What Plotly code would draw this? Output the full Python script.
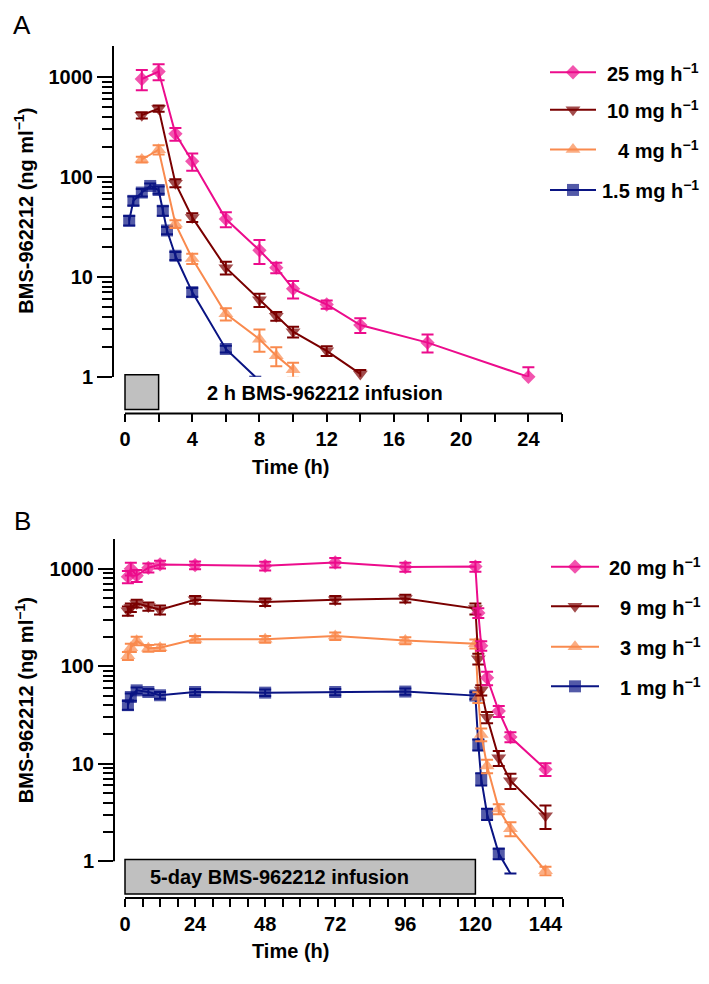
import plotly.graph_objects as go

W, H = 709, 984
FONT = "Liberation Sans, Arial, sans-serif"

# ---------------- Panel A data (2 h infusion) ----------------
a_labels = ["25 mg h<sup>−1</sup>", "10 mg h<sup>−1</sup>", "4 mg h<sup>−1</sup>", "1.5 mg h<sup>−1</sup>"]
a25_t = [1, 2, 3, 4, 6, 8, 9, 10, 12, 14, 18, 24]
a25_y = [960, 1140, 271, 144, 38, 18.5, 12.4, 7.6, 5.3, 3.3, 2.2, 1.0]
a25_sd = [220, 210, 40, 28, 6.5, 5.0, 1.5, 1.5, 0.5, 0.55, 0.45, 0.25]

a10_t = [1, 2, 3, 4, 6, 8, 9, 10, 12, 14]
a10_y = [417, 485, 87, 39.5, 12.4, 5.9, 4.05, 2.83, 1.82, 1.07]
a10_sd = [30, 35, 8, 4, 1.8, 0.9, 0.4, 0.35, 0.2, 0.1]

a4_t = [1, 2, 3, 4, 6, 8, 9, 10]
a4_y = [150, 188, 34, 15.3, 4.27, 2.38, 1.63, 1.18]
a4_sd = [10, 20, 3, 1.8, 0.6, 0.6, 0.35, 0.2]

a15_t = [0.25, 0.5, 1, 1.5, 2, 2.25, 2.5, 3, 4, 6, 7.75]
a15_y = [36.7, 57.8, 70, 81.5, 74.3, 46, 29.2, 16.3, 7.05, 1.9, 1.0]
a15_sd = [4, 6, 6, 5, 6, 5, 2.5, 1.5, 0.7, 0.15, None]
a15_shown = [True] * 10 + [False]

# ---------------- Panel B data (5-day infusion) ----------------
b_labels = ["20 mg h<sup>−1</sup>", "9 mg h<sup>−1</sup>", "3 mg h<sup>−1</sup>", "1 mg h<sup>−1</sup>"]
b_t = [1, 2, 4, 8, 12, 24, 48, 72, 96, 120, 121, 122, 124, 128, 132, 144]
b20_y = [828, 1000, 850, 1021, 1104, 1087, 1070, 1156, 1040, 1050, 352, 162, 76, 34.7, 18.8, 8.8]
b20_sd = [120, 150, 120, 110, 100, 100, 110, 130, 110, 120, 40, 18, 12, 4.5, 2.2, 1.3]
b9_y = [370, 400, 440, 410, 380, 481, 455, 481, 495, 390, 119, 57, 30, 11.5, 6.7, 2.94]
b9_sd = [40, 40, 40, 40, 40, 45, 40, 45, 45, 50, 15, 7, 4, 2, 1.2, 0.8]
b3_y = [128, 155, 182, 153, 155, 189, 189, 204, 183, 170, 48, 20, 9.5, 3.44, 2.16, 0.8]
b3_sd = [12, 15, 18, 12, 12, 15, 15, 18, 15, 18, 6, 3, 1.5, 0.4, 0.35, 0.08]
b1_t = [1, 2, 4, 8, 12, 24, 48, 72, 96, 120, 121, 122, 124, 128, 132]
b1_y = [39.9, 48.4, 56.6, 54.4, 50.4, 54.4, 53.6, 54.4, 55, 50, 15.7, 7.0, 3.06, 1.2, 0.75]
b1_sd = [4, 4, 4, 4, 4, 4, 4, 4, 4, 4, 2, 1, 0.4, 0.15, None]
b1_shown = [True] * 14 + [False]

a_xticks = list(range(0, 27, 2))
a_xlabels = [str(v) if v % 4 == 0 and v <= 24 else "" for v in a_xticks]
b_xticks = list(range(0, 151, 6))
b_xlabels = [str(v) if v % 24 == 0 else "" for v in b_xticks]
y_major = [1, 10, 100, 1000]
y_minor = [m * 10 ** e for e in range(0, 3) for m in range(2, 10)]

COL = {"pink": "#EC0C8C", "brown": "#7A0000", "orange": "#F98A4E", "navy": "#0A1483"}
SYM = {"pink": ("diamond", 11), "brown": ("triangle-down", 13),
       "orange": ("triangle-up", 13), "navy": ("square", 12)}


def px_x(p):
    return p / W


def px_y(p):
    return 1 - p / H


fig = go.Figure()


def add_series(t, y, sd, key, xa, ya, shown=None):
    sym, size = SYM[key]
    flags = shown if shown is not None else [True] * len(t)
    sizes = [size if s else 0 for s in flags]
    fig.add_trace(go.Scatter(
        x=t, y=y, mode="lines+markers", xaxis=xa, yaxis=ya, showlegend=False,
        cliponaxis=False,
        line=dict(color=COL[key], width=2),
        marker=dict(symbol=sym, size=sizes, color=COL[key], line=dict(width=0)),
        error_y=dict(type="data", array=sd, symmetric=True, color=COL[key],
                     thickness=2, width=6),
    ))


add_series(a15_t, a15_y, a15_sd, "navy", "x", "y", a15_shown)
add_series(a4_t, a4_y, a4_sd, "orange", "x", "y")
add_series(a10_t, a10_y, a10_sd, "brown", "x", "y")
add_series(a25_t, a25_y, a25_sd, "pink", "x", "y")

add_series(b1_t, b1_y, b1_sd, "navy", "x2", "y2", b1_shown)
add_series(b_t, b3_y, b3_sd, "orange", "x2", "y2")
add_series(b_t, b9_y, b9_sd, "brown", "x2", "y2")
add_series(b_t, b20_y, b20_sd, "pink", "x2", "y2")

# ---------------- manual legends (pixel overlay axes) ----------------
leg_keys = ["pink", "brown", "orange", "navy"]
legA_y = [65, 103, 143, 184]
legB_y = [565, 605, 646, 686]
annotations = []
for keys, ys, x0, x1, xt, labels in [
    (leg_keys, legA_y, 542, 588, 693, a_labels),
    (leg_keys, legB_y, 543, 591, 695, b_labels),
]:
    for k, yy, lab in zip(keys, ys, labels):
        sym, size = SYM[k]
        fig.add_trace(go.Scatter(
            x=[x0, (x0 + x1) / 2, x1], y=[yy, yy, yy], mode="lines+markers",
            xaxis="x3", yaxis="y3", showlegend=False, cliponaxis=False,
            line=dict(color=COL[k], width=2),
            marker=dict(symbol=sym, size=[0, size, 0], color=COL[k], line=dict(width=0)),
        ))
        annotations.append(dict(
            text=lab, x=px_x(xt), y=px_y(yy), xref="paper", yref="paper",
            xanchor="right", yanchor="middle", showarrow=False,
            font=dict(family=FONT, size=20, color="black", weight="bold")))


# ---------------- axis titles / labels ----------------
def ann(text, x, y, size=20, bold=True, angle=0, xanchor="center"):
    annotations.append(dict(
        text=text, x=px_x(x), y=px_y(y), xref="paper", yref="paper",
        xanchor=xanchor, yanchor="middle", showarrow=False, textangle=angle,
        font=dict(family=FONT, size=size, color="black", weight="bold" if bold else "normal")))


ann("A", 3, 17, size=26, bold=False, xanchor="left")
ann("B", 4, 519, size=26, bold=False, xanchor="left")
ann("BMS-962212 (ng ml<sup>−1</sup>)", 16, 205, angle=-90)
ann("BMS-962212 (ng ml<sup>−1</sup>)", 16, 700, angle=-90)
ann("Time (h)", 282, 464)
ann("Time (h)", 282, 954)
ann("2 h BMS-962212 infusion", 197, 389, xanchor="left")
ann("5-day BMS-962212 infusion", 140, 879, xanchor="left")

# ---------------- shapes ----------------
AX_A, AX_B = 410, 900
shapes = [
    # infusion boxes
    dict(type="rect", xref="x", yref="paper", x0=0, x1=2, y0=px_y(406), y1=px_y(371),
         fillcolor="#C0C0C0", line=dict(color="black", width=1.5), layer="below"),
    dict(type="rect", xref="x2", yref="paper", x0=0, x1=120, y0=px_y(896), y1=px_y(861),
         fillcolor="#C0C0C0", line=dict(color="black", width=1.5), layer="below"),
    # x axis lines
    dict(type="line", xref="x", yref="paper", x0=0, x1=26, y0=px_y(AX_A), y1=px_y(AX_A),
         line=dict(color="black", width=2)),
    dict(type="line", xref="x2", yref="paper", x0=0, x1=150, y0=px_y(AX_B), y1=px_y(AX_B),
         line=dict(color="black", width=2)),
    # panel B y axis line (stops at 1)
    dict(type="line", xref="paper", yref="paper", x0=px_x(106), x1=px_x(106),
         y0=px_y(863), y1=px_y(537), line=dict(color="black", width=2)),
]

tickfont = dict(family=FONT, size=20, color="black", weight="bold")
pxA = (554 - 117) / 26
pxB = (555 - 117) / 150
decA = (373 - 70) / 3
decB = (863 - 567) / 3

common_x = dict(showgrid=False, zeroline=False, showline=False, ticks="outside",
                ticklen=8, tickwidth=2, tickcolor="black", tickmode="array",
                tickfont=tickfont, anchor="free")
common_y = dict(type="log", showgrid=False, zeroline=False, ticks="outside",
                ticklen=15, tickwidth=2, tickcolor="black", tickmode="array",
                tickvals=y_major, ticktext=[str(v) for v in y_major], tickfont=tickfont,
                minor=dict(tickmode="array", tickvals=y_minor, ticks="outside",
                           ticklen=10, tickwidth=1.5, tickcolor="black"))

fig.update_layout(
    width=W, height=H, margin=dict(l=0, r=0, t=0, b=0),
    paper_bgcolor="white", plot_bgcolor="rgba(0,0,0,0)",
    font=dict(family=FONT, color="black"),
    xaxis=dict(common_x, domain=[px_x(106), px_x(554)], range=[-11 / pxA, 26],
               tickvals=a_xticks, ticktext=a_xlabels, position=px_y(AX_A)),
    yaxis=dict(common_y, domain=[px_y(373), px_y(38)], anchor="x",
               range=[0, (373 - 38) / decA], showline=True, linewidth=2, linecolor="black"),
    xaxis2=dict(common_x, domain=[px_x(106), px_x(555)], range=[-11 / pxB, 150],
                tickvals=b_xticks, ticktext=b_xlabels, position=px_y(AX_B)),
    yaxis2=dict(common_y, domain=[px_y(882), px_y(537)], anchor="x2",
                range=[-(882 - 863) / decB, (863 - 537) / decB], showline=False),
    xaxis3=dict(domain=[0, 1], range=[0, W], visible=False, anchor="y3"),
    yaxis3=dict(domain=[0, 1], range=[H, 0], visible=False, anchor="x3"),
    annotations=annotations,
    shapes=shapes,
)

fig.write_html("out.html")
